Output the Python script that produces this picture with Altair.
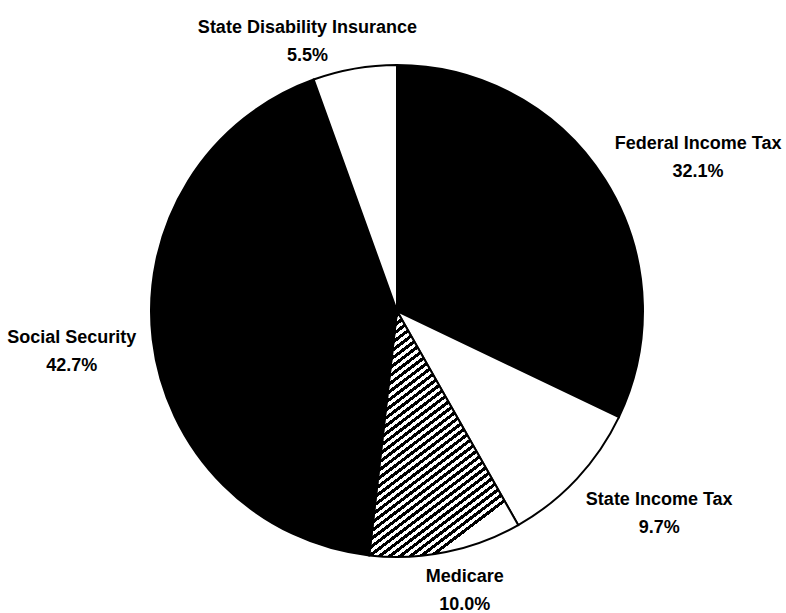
import altair as alt
import pandas as pd

# ---- data ----
names = ["Federal Income Tax", "State Income Tax", "Medicare",
         "Social Security", "State Disability Insurance"]
values = [32.1, 9.7, 10.0, 42.7, 5.5]
order = [1, 2, 3, 4, 5]

df = pd.DataFrame({"name": names, "value": values, "order": order})

# ---- layout / style ----
W, H = 778, 604          # view size
PAD_L, PAD_T = 8, 9      # shifts pie centre to (397, 311)
CX, CY = W / 2, H / 2
R = 246                  # pie radius
RL = 258                 # label anchor radius

# diagonal hatch for Medicare via a hard-stop linear gradient
N = 38
stops = []
for k in range(N):
    a, b, c = k / N, (k + 0.5) / N, (k + 1) / N
    stops += [{"offset": a, "color": "black"}, {"offset": b, "color": "black"},
              {"offset": b, "color": "white"}, {"offset": c, "color": "white"}]
hatch = {"gradient": "linear", "x1": 0, "y1": 0, "x2": 0.46, "y2": 1, "stops": stops}

base = alt.Chart(df)

pie = base.mark_arc(outerRadius=R, stroke="black", strokeWidth=2).encode(
    theta=alt.Theta("value:Q", stack=True),
    order=alt.Order("order:Q"),
    fill={
        "condition": [
            {"test": "datum.name === 'Medicare'", "value": hatch},
            {"test": "datum.name === 'State Income Tax' || datum.name === 'State Disability Insurance'",
             "value": "white"},
        ],
        "value": "black",
    },
)

labels = base.transform_window(
    cum="sum(value)", sort=[alt.SortField("order")], frame=[None, 0]
).transform_joinaggregate(
    total="sum(value)"
).transform_calculate(
    ang="2*PI*(datum.cum - datum.value/2)/datum.total"
).transform_calculate(
    label="datum.name + '\\n' + format(datum.value, '.1f') + '%'",
    px=f"{CX} + {RL}*sin(datum.ang) + 4.6*length(datum.name)*clamp(2.2*sin(datum.ang),-1,1)",
    py=f"{CY} - {RL}*cos(datum.ang) + 21*clamp(-2*cos(datum.ang),-1,1)",
).mark_text(
    font="Liberation Sans", fontWeight="bold", fontSize=18,
    lineHeight=28, lineBreak="\n", align="center", baseline="middle", color="black",
    dy=-8,
).encode(
    x=alt.X("px:Q", scale=None, axis=None),
    y=alt.Y("py:Q", scale=None, axis=None),
    text="label:N",
)

chart = alt.layer(pie, labels).properties(
    width=W, height=H,
    autosize=alt.AutoSizeParams(type="none"),
    padding={"left": PAD_L, "top": PAD_T, "right": 0, "bottom": 0},
    background="white",
).configure_view(stroke=None)

chart.save("out.html", embed_options={"renderer": "svg", "actions": False})
